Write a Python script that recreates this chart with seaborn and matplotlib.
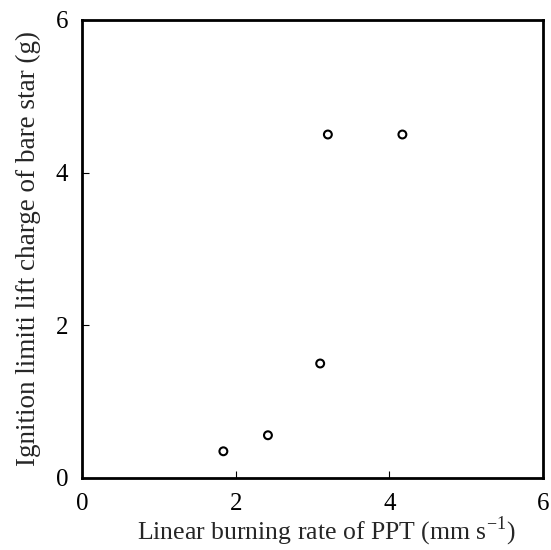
import pandas as pd
import matplotlib
matplotlib.use('Agg')
import matplotlib.pyplot as plt
import seaborn as sns

# values
burn_rate = [1.84, 2.42, 3.10, 3.20, 4.17]
lift_charge = [0.35, 0.56, 1.50, 4.50, 4.50]
ticks = [0, 2, 4, 6]

sns.set_style('ticks')
plt.rcParams['font.family'] = ['Liberation Serif', 'DejaVu Serif']
plt.rcParams['mathtext.fontset'] = 'custom'
plt.rcParams['mathtext.rm'] = 'Liberation Serif'

data = pd.DataFrame({'rate': burn_rate, 'charge': lift_charge})

fig = plt.figure(figsize=(5.51, 5.50), dpi=100)
ax = fig.add_axes([82 / 551, 1 - 478 / 550, 461 / 551, 458 / 550])
sns.scatterplot(data=data, x='rate', y='charge', ax=ax, marker='o',
                s=32, facecolor='none', edgecolor='black', linewidth=1.5)

ax.set_xlim(0, 6)
ax.set_ylim(0, 6)
ax.set_xticks(ticks)
ax.set_yticks(ticks)
ax.tick_params(direction='in', length=5, width=0.8, labelsize=18,
               colors='black')
ax.tick_params(axis='x', pad=11)
ax.tick_params(axis='y', pad=10)
for sp in ax.spines.values():
    sp.set_linewidth(2)
    sp.set_color('black')
ax.set_xlabel(r'Linear burning rate of PPT (mm s$^{\mathregular{-1}}$)', fontsize=18.5)
ax.xaxis.set_label_coords(0.53, -0.08, transform=ax.transAxes)
ax.set_ylabel('Ignition limiti lift charge of bare star (g)', fontsize=19.5)
ax.yaxis.set_label_coords(-0.09, 0.5, transform=ax.transAxes)

plt.savefig('out.png', dpi=100)
